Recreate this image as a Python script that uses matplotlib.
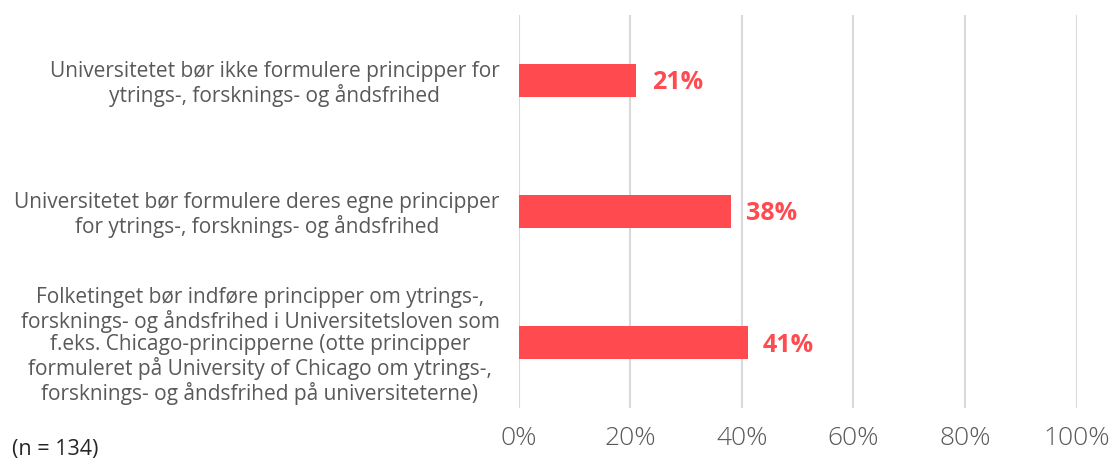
import matplotlib.pyplot as plt
import numpy as np

# Data
categories = [
    'Universitetet bør ikke formulere principper for\nytrings-, forsknings- og åndsfrihed',
    'Universitetet bør formulere deres egne principper\nfor ytrings-, forsknings- og åndsfrihed',
    'Folketinget bør indføre principper om ytrings-,\nforsknings- og åndsfrihed i Universitetsloven som\n'
    'f.eks. Chicago-principperne (otte principper\nformuleret på University of Chicago om ytrings-,\n'
    'forsknings- og åndsfrihed på universiteterne)',
]
values = [21, 38, 41]
x_ticks = [0, 20, 40, 60, 80, 100]
x_tick_labels = ['0%', '20%', '40%', '60%', '80%', '100%']

plt.rcParams['font.family'] = ['Open Sans', 'DejaVu Sans']

bar_color = '#FF4B4F'
text_grey = '#595959'

fig = plt.figure(figsize=(11.11, 4.62), dpi=100)
ax = fig.add_axes([0.467, 0.117, 0.502, 0.851])

y = np.arange(len(categories))
ax.barh(y, values, height=0.25, color=bar_color, zorder=3)
ax.set_ylim(len(categories) - 0.5, -0.5)
ax.set_xlim(0, 100)

# Подписи значений
for i, v in enumerate(values):
    ax.text(v + 2.8, i + 0.02, f'{v}%', ha='left', va='center', color=bar_color,
            fontsize=18, fontweight='bold')

ax.set_xticks(x_ticks)
ax.set_xticklabels(x_tick_labels, fontsize=19, color=text_grey, fontweight='light')
ax.set_yticks(y)
ax.set_yticklabels(categories, fontsize=15, color=text_grey, multialignment='center',
                   linespacing=1.1)
ax.tick_params(axis='both', length=0)
ax.tick_params(axis='y', pad=14)
ax.tick_params(axis='x', pad=13)

ax.grid(axis='x', color='#D9D9D9', linewidth=1.5, zorder=0)
for s in ax.spines.values():
    s.set_visible(False)

fig.text(0.011, 0.005, '(n = 134)', fontsize=15.5, color='#262626', ha='left', va='bottom')

fig.savefig('out.png', dpi=100)
